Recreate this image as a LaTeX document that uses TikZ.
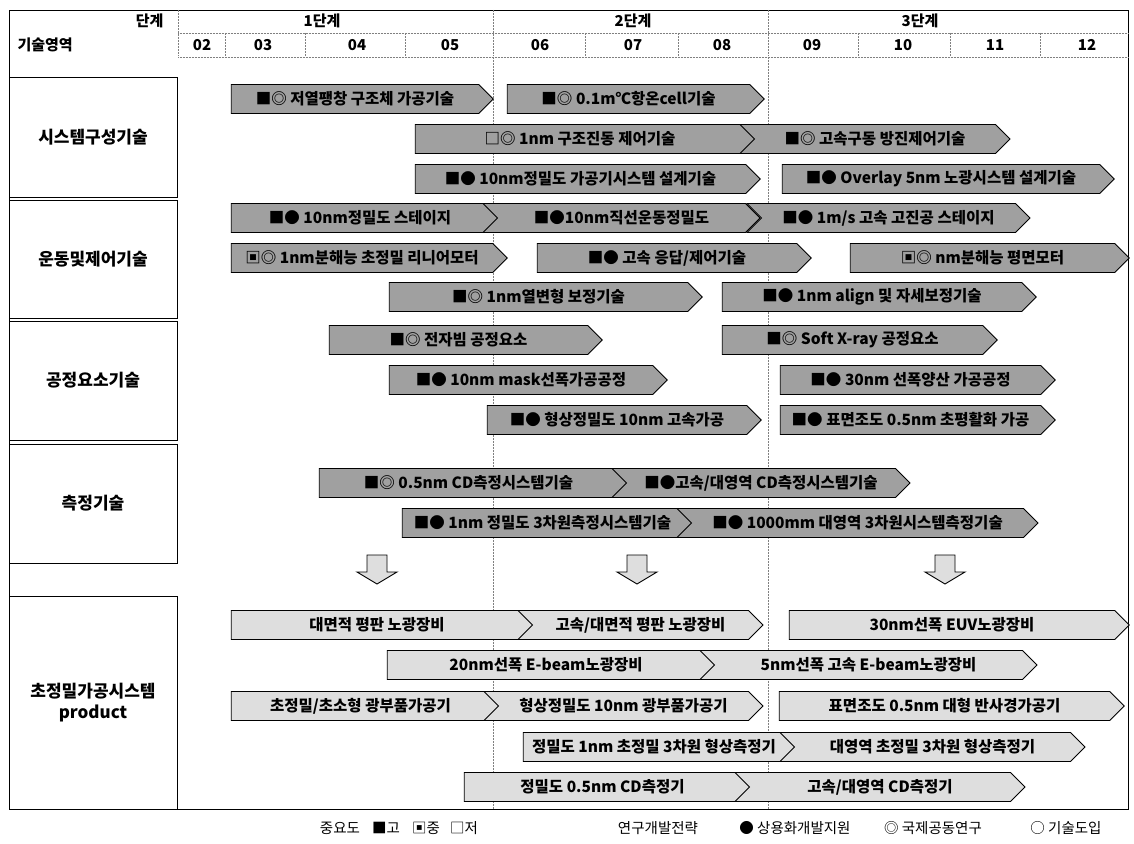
\documentclass[tikz,border=0pt]{standalone}
\usepackage{fontspec}
\setmainfont{Noto Sans CJK KR}
\usetikzlibrary{shapes.symbols, positioning}
\definecolor{techgray}{RGB}{160,160,160}
\definecolor{prodgray}{RGB}{222,222,222}

\begin{document}
\begin{tikzpicture}[
    x=1pt, y=-1pt,
    tech/.style={signal, signal to=east, signal pointer angle=90, draw=black, line width=0.9pt,
                 fill=techgray, minimum height=29, inner sep=0pt,
                 font=\fontsize{15.5}{16}\selectfont\bfseries},
    prod/.style={tech, fill=prodgray},
    notch/.style={signal from=west},
    rowbox/.style={draw, line width=0.9pt, align=center, inner sep=0pt,
                   font=\fontsize{17}{21}\selectfont\bfseries},
    grid/.style={densely dotted, line width=0.5pt, gray},
    downarr/.style={draw=black, line width=0.9pt, fill=prodgray},
    hdr/.style={font=\fontsize{15}{16}\selectfont\bfseries},
    lgd/.style={font=\fontsize{14.5}{15}\selectfont},
]
    \useasboundingbox (0,0) rectangle (1134,843);

    % frame and grid
    \draw[line width=0.9pt] (9,10) rectangle (1128,809);
    \draw[grid] (178,33) -- (1128,33);
    \draw[grid] (178,57) -- (1128,57);
    \draw[grid] (178,10) -- (178,57);
    \foreach \gx in {493,768}
        \draw[grid] (\gx,10) -- (\gx,809);
    \foreach \gx in {225,305,405,585,678,858,950,1040}
        \draw[grid] (\gx,33) -- (\gx,57);

    % header
    \node[hdr, anchor=east] (stage) at (167,21) {단계};
    \node[hdr, anchor=west] (area) at (14,45) {기술영역};
    \node[hdr] (st1) at (322,21) {1단계};
    \node[hdr] (st2) at (633,21) {2단계};
    \node[hdr] (st3) at (920,21) {3단계};
    \foreach \yr/\yx in {02/202,03/263,04/357,05/450,06/540,07/633,08/722,09/812,10/903,11/995,12/1087}
        \node[hdr] (yr\yr) at (\yx,45) {\yr};

    % row boxes
    \node[rowbox, minimum width=168, minimum height=120] (rowSys)  at (93,137)   {시스템구성기술};
    \node[rowbox, minimum width=168, minimum height=118] (rowMov)  at (93,259)   {운동및제어기술};
    \node[rowbox, minimum width=168, minimum height=119] (rowProc) at (93,380.5) {공정요소기술};
    \node[rowbox, minimum width=168, minimum height=119] (rowMeas) at (93,503.5) {측정기술};
    \node[rowbox, minimum width=168, minimum height=213] (rowProd) at (93,702.5) {초정밀가공시스템\\product};

    % system
    \node[tech, minimum width=262] (sysA) at (355,99)   {■◎ 저열팽창 구조체 가공기술};
    \node[tech, minimum width=257] (sysB) at (628.5,99) {■◎ 0.1m℃항온cell기술};
    \node[tech, minimum width=344] (sysC) at (580,139)  {□◎ 1nm 구조진동 제어기술};
    \node[tech, notch, minimum width=270] (sysD) at (875,139) {■◎ 고속구동 방진제어기술};
    \node[tech, minimum width=345] (sysE) at (580.5,179) {■● 10nm정밀도 가공기시스템 설계기술};
    \node[tech, minimum width=332] (sysF) at (941,179)  {■● Overlay 5nm 노광시스템 설계기술};

    % motion
    \node[tech, minimum width=272] (movA) at (360,218)   {■● 10nm정밀도 스테이지};
    \node[tech, notch, minimum width=277] (movB) at (621.5,218) {■●10nm직선운동정밀도};
    \node[tech, notch, minimum width=283] (movC) at (888.5,218) {■● 1m/s 고속 고진공 스테이지};
    \node[tech, minimum width=276] (movD) at (362,258)   {▣◎ 1nm분해능 초정밀 리니어모터};
    \node[tech, minimum width=274] (movE) at (667,258)   {■● 고속 응답/제어기술};
    \node[tech, minimum width=279] (movF) at (982.5,258) {▣◎ nm분해능 평면모터};
    \node[tech, minimum width=313] (movG) at (538.5,297) {■◎ 1nm열변형 보정기술};
    \node[tech, minimum width=314] (movH) at (872,297)   {■● 1nm align 및 자세보정기술};

    % process
    \node[tech, minimum width=273] (procA) at (458.5,340) {■◎ 전자빔 공정요소};
    \node[tech, minimum width=275] (procB) at (852.5,340) {■◎ Soft X-ray 공정요소};
    \node[tech, minimum width=278] (procC) at (521,380)   {■● 10nm mask선폭가공공정};
    \node[tech, minimum width=275] (procD) at (910.5,380) {■● 30nm 선폭양산 가공공정};
    \node[tech, minimum width=274] (procE) at (617,420)   {■● 형상정밀도 10nm 고속가공};
    \node[tech, minimum width=275] (procF) at (910.5,420) {■● 표면조도 0.5nm 초평활화 가공};

    % measurement
    \node[tech, minimum width=313] (measA) at (468.5,483) {■◎ 0.5nm CD측정시스템기술};
    \node[tech, notch, minimum width=298] (measB) at (761,483) {■●고속/대영역 CD측정시스템기술};
    \node[tech, minimum width=295] (measC) at (542.5,523) {■● 1nm 정밀도 3차원측정시스템기술};
    \node[tech, notch, minimum width=361] (measD) at (857.5,523) {■● 1000mm 대영역 3차원시스템측정기술};

    % down arrows
    \foreach \dx [count=\i] in {377,637,945}
        \draw[downarr] (\dx-10,555) coordinate (dn\i) -- ++(20,0) -- ++(0,17) -- ++(10,0)
            -- ++(-20,12) -- ++(-20,-12) -- ++(10,0) -- cycle;

    % products
    \node[prod, minimum width=306] (prodA) at (377,625)   {대면적 평판 노광장비};
    \node[prod, notch, minimum width=245] (prodB) at (640.5,625) {고속/대면적 평판 노광장비};
    \node[prod, minimum width=340] (prodC) at (952,625)   {30nm선폭 EUV노광장비};
    \node[prod, minimum width=332] (prodD) at (546,665)   {20nm선폭 E-beam노광장비};
    \node[prod, notch, minimum width=337] (prodE) at (868.5,665) {5nm선폭 고속 E-beam노광장비};
    \node[prod, minimum width=273] (prodF) at (360.5,706) {초정밀/초소형 광부품가공기};
    \node[prod, notch, minimum width=279] (prodG) at (623.5,706) {형상정밀도 10nm 광부품가공기};
    \node[prod, minimum width=345] (prodH) at (944.5,706) {표면조도 0.5nm 대형 반사경가공기};
    \node[prod, minimum width=276] (prodI) at (654,747)   {정밀도 1nm 초정밀 3차원 형상측정기};
    \node[prod, notch, minimum width=305] (prodJ) at (932.5,747) {대영역 초정밀 3차원 형상측정기};
    \node[prod, minimum width=291] (prodK) at (602.5,787) {정밀도 0.5nm CD측정기};
    \node[prod, notch, minimum width=290] (prodL) at (880,787) {고속/대영역 CD측정기};

    % legend
    \node[lgd] (lgImp)  at (340,828)  {중요도};
    \node[lgd] (lgHigh) at (386,828)  {■고};
    \node[lgd] (lgMid)  at (426,828)  {▣중};
    \node[lgd] (lgLow)  at (464,828)  {□저};
    \node[lgd] (lgStr)  at (658,828)  {연구개발전략};
    \node[lgd] (lgCom)  at (795,828)  {● 상용화개발지원};
    \node[lgd] (lgInt)  at (933,828)  {◎ 국제공동연구};
    \node[lgd] (lgInt2) at (1066,828) {○ 기술도입};
\end{tikzpicture}
\end{document}
